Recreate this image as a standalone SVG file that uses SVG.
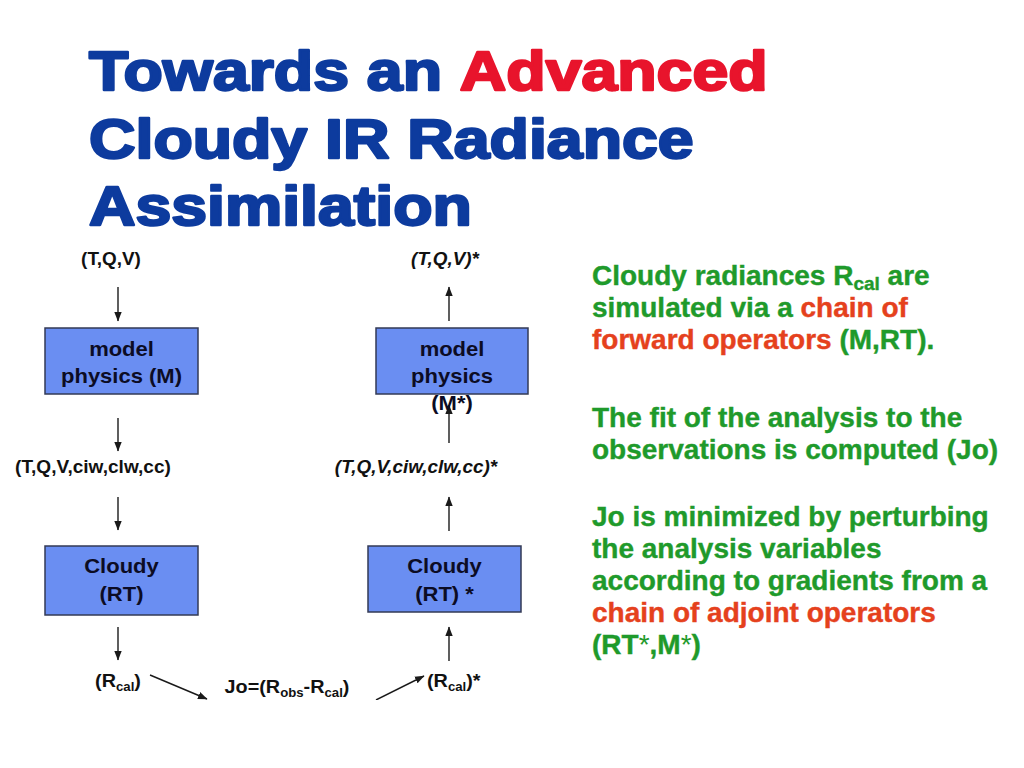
<svg xmlns="http://www.w3.org/2000/svg" width="1024" height="768" viewBox="0 0 1024 768">
<defs>
<marker id="ah" markerUnits="userSpaceOnUse" markerWidth="10" markerHeight="10" viewBox="0 0 10 10" refX="9" refY="5" orient="auto">
<path d="M0,1.3 L9.5,5 L0,8.7 Z" fill="#1a1a1a"/>
</marker>
<clipPath id="cut"><rect x="0" y="0" width="1024" height="700"/></clipPath>
</defs>
<style>
.title{font-family:"Liberation Sans",Arial,sans-serif;font-weight:bold;font-size:56px;stroke-width:2.4px;stroke-linejoin:round}
.blue{fill:#0d3b9e;stroke:#0d3b9e}
.red{fill:#e8142c;stroke:#e8142c}
.box{fill:#6a8ef2;stroke:#333a55;stroke-width:1.5}
.bt{font-family:"Liberation Sans",Arial,sans-serif;font-weight:bold;font-size:20px;fill:#0c0c24}
.lb{font-family:"Liberation Sans",Arial,sans-serif;font-weight:bold;font-size:18px;fill:#111}
.it{font-style:italic}
.conn{stroke:#1a1a1a;stroke-width:1.4;fill:none}
.rt{font-family:"Liberation Sans",Arial,sans-serif;font-weight:bold;font-size:28px;fill:#1f9a2b;stroke:#1f9a2b;stroke-width:0.4px}
.r{fill:#e5411d;stroke:#e5411d}
</style>
<rect width="1024" height="768" fill="#ffffff"/>

<g id="title">
<text class="title blue" transform="translate(89,90) scale(1.15,1)">Towards an <tspan class="red">Advanced</tspan></text>
<text class="title blue" transform="translate(89,158) scale(1.15,1)">Cloudy IR Radiance</text>
<text class="title blue" transform="translate(89,225) scale(1.15,1)">Assimilation</text>
</g>

<g id="connectors" clip-path="url(#cut)">
<line class="conn" x1="118" y1="287" x2="118" y2="321" marker-end="url(#ah)"/>
<line class="conn" x1="118" y1="418" x2="118" y2="451" marker-end="url(#ah)"/>
<line class="conn" x1="118" y1="497" x2="118" y2="530" marker-end="url(#ah)"/>
<line class="conn" x1="118" y1="627" x2="118" y2="660" marker-end="url(#ah)"/>
<line class="conn" x1="449" y1="321" x2="449" y2="287" marker-end="url(#ah)"/>
<line class="conn" x1="449" y1="443" x2="449" y2="405" marker-end="url(#ah)"/>
<line class="conn" x1="449" y1="531" x2="449" y2="497" marker-end="url(#ah)"/>
<line class="conn" x1="449" y1="661" x2="449" y2="627" marker-end="url(#ah)"/>
<line class="conn" x1="150" y1="675" x2="207" y2="699" marker-end="url(#ah)"/>
<line class="conn" x1="376" y1="700" x2="424" y2="676" marker-end="url(#ah)"/>
</g>

<g id="n-tqv">
<text class="lb" text-anchor="middle" transform="translate(111,265) scale(1.05,1)">(T,Q,V)</text>
</g>
<g id="n-tqv-adj">
<text class="lb it" text-anchor="middle" transform="translate(445,265) scale(1.05,1)">(T,Q,V)*</text>
</g>

<g id="n-model">
<rect class="box" x="45" y="328" width="153" height="66"/>
<text class="bt" text-anchor="middle" transform="translate(121.5,356) scale(1.1,1)">model</text>
<text class="bt" text-anchor="middle" transform="translate(121.5,383) scale(1.1,1)">physics (M)</text>
</g>
<g id="n-model-adj">
<rect class="box" x="376" y="328" width="152" height="66"/>
<text class="bt" text-anchor="middle" transform="translate(452,356) scale(1.1,1)">model</text>
<text class="bt" text-anchor="middle" transform="translate(452,383) scale(1.1,1)">physics</text>
<text class="bt" text-anchor="middle" transform="translate(452,410) scale(1.1,1)">(M*)</text>
</g>

<g id="n-tqvc">
<text class="lb" text-anchor="middle" transform="translate(93,473) scale(1.06,1)">(T,Q,V,ciw,clw,cc)</text>
</g>
<g id="n-tqvc-adj">
<text class="lb it" text-anchor="middle" transform="translate(416,473) scale(1.05,1)">(T,Q,V,ciw,clw,cc)*</text>
</g>

<g id="n-rt">
<rect class="box" x="45" y="546" width="153" height="69"/>
<text class="bt" text-anchor="middle" transform="translate(121.5,573) scale(1.1,1)">Cloudy</text>
<text class="bt" text-anchor="middle" transform="translate(121.5,601) scale(1.1,1)">(RT)</text>
</g>
<g id="n-rt-adj">
<rect class="box" x="368" y="546" width="153" height="66"/>
<text class="bt" text-anchor="middle" transform="translate(444.5,573) scale(1.1,1)">Cloudy</text>
<text class="bt" text-anchor="middle" transform="translate(444.5,601) scale(1.1,1)">(RT) *</text>
</g>

<g id="n-rcal">
<text class="lb" text-anchor="middle" transform="translate(118,687) scale(1.1,1)">(R<tspan font-size="12" dy="4">cal</tspan><tspan dy="-4">)</tspan></text>
</g>
<g id="n-jo">
<text class="lb" text-anchor="middle" transform="translate(287,693) scale(1.1,1)">Jo=(R<tspan font-size="12" dy="4">obs</tspan><tspan dy="-4">-R</tspan><tspan font-size="12" dy="4">cal</tspan><tspan dy="-4">)</tspan></text>
</g>
<g id="n-rcal-adj">
<text class="lb" transform="translate(427,687) scale(1.1,1)">(R<tspan font-size="12" dy="4">cal</tspan><tspan dy="-4">)*</tspan></text>
</g>

<g id="explanation">
<text class="rt" x="592" y="285">Cloudy radiances R<tspan font-size="19" dy="5">cal</tspan><tspan dy="-5"> are</tspan></text>
<text class="rt" x="592" y="317">simulated via a <tspan class="r">chain of</tspan></text>
<text class="rt" x="592" y="349"><tspan class="r">forward operators</tspan> (M,RT).</text>
<text class="rt" x="592" y="427">The fit of the analysis to the</text>
<text class="rt" x="592" y="459">observations is computed (Jo)</text>
<text class="rt" x="592" y="526">Jo is minimized by perturbing</text>
<text class="rt" x="592" y="558">the analysis variables</text>
<text class="rt" x="592" y="590">according to gradients from a</text>
<text class="rt r" x="592" y="622">chain of adjoint operators</text>
<text class="rt" x="592" y="654">(RT<tspan font-weight="normal" stroke-width="0">*</tspan>,M<tspan font-weight="normal" stroke-width="0">*</tspan>)</text>
</g>
</svg>
